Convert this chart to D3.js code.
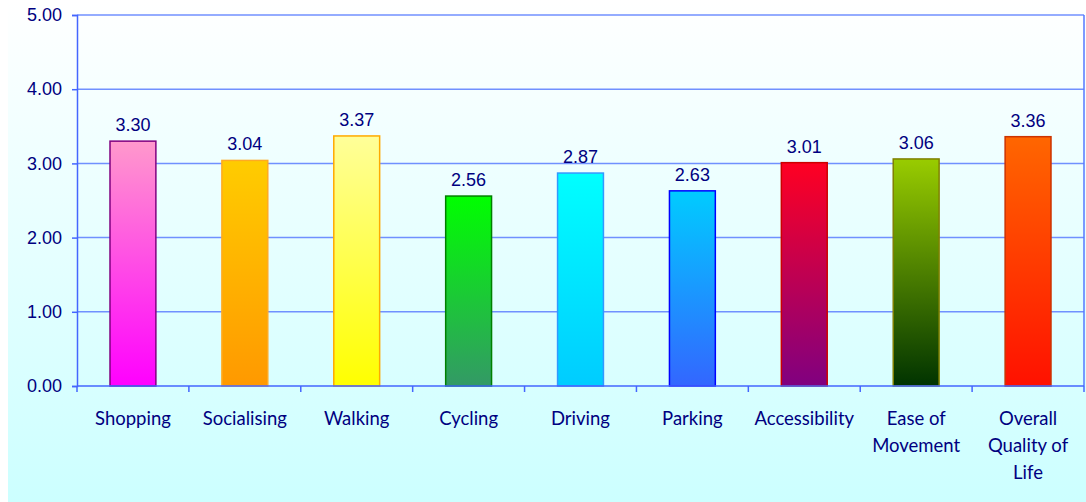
<!DOCTYPE html>
<html>
<head>
<meta charset="utf-8">
<script src="https://cdn.jsdelivr.net/npm/d3@7"></script>
<style>
  body { margin: 0; background: #fff; }
  svg { display: block; }
</style>
</head>
<body>
<div id="chart"></div>
<script>
'use strict';

const categories = ["Shopping", "Socialising", "Walking", "Cycling", "Driving",
  "Parking", "Accessibility", "Ease of Movement", "Overall Quality of Life"];
const values = [3.30, 3.04, 3.37, 2.56, 2.87, 2.63, 3.01, 3.06, 3.36];
const yTicks = [0, 1, 2, 3, 4, 5];
// label lines for wrapped categories
const labelLines = [["Shopping"], ["Socialising"], ["Walking"], ["Cycling"], ["Driving"],
  ["Parking"], ["Accessibility"], ["Ease of", "Movement"], ["Overall", "Quality of", "Life"]];
// gradient top / bottom / outline per bar
const topColors = ["#ff99cc", "#ffcc00", "#ffff99", "#00ff00", "#00ffff", "#00ccff", "#ff0022", "#99cc00", "#ff6600"];
const bottomColors = ["#ff00ff", "#ff9900", "#ffff00", "#339966", "#00ccff", "#3366ff", "#800080", "#003300", "#ff1100"];
const strokeColors = ["#800080", "#ffaa22", "#ffaa00", "#008000", "#3399ff", "#0000ff", "#cc0000", "#808000", "#cc3300"];

const m = { width: 1086, height: 502, left: 77, right: 1084, top: 15, bottom: 386 };

const svg = d3.select('#chart')
  .append('svg')
  .attr('width', m.width)
  .attr('height', m.height);

const defs = svg.append('defs');

const bg = defs.append('linearGradient')
  .attr('id', 'bgGrad')
  .attr('x1', 0).attr('y1', 0).attr('x2', 0).attr('y2', 1);
bg.append('stop').attr('offset', '0%').attr('stop-color', '#ffffff');
bg.append('stop').attr('offset', '100%').attr('stop-color', '#ccffff');

categories.forEach((c, i) => {
  let g = defs.append('linearGradient')
    .attr('id', 'barGrad' + i)
    .attr('x1', 0).attr('y1', 0).attr('x2', 0).attr('y2', 1);
  g.append('stop').attr('offset', '0%').attr('stop-color', topColors[i]);
  g.append('stop').attr('offset', '100%').attr('stop-color', bottomColors[i]);
});

svg.append('rect')
  .attr('x', 8)
  .attr('y', 0)
  .attr('width', m.width - 8)
  .attr('height', m.height)
  .attr('fill', 'url(#bgGrad)');

const x = d3.scaleBand()
  .domain(categories)
  .range([m.left, m.right])
  .paddingInner(0.59)
  .paddingOuter(0.295);

const xBand = d3.scaleBand()
  .domain(categories)
  .range([m.left, m.right]);

const y = d3.scaleLinear()
  .domain([0, 5])
  .range([m.bottom, m.top]);

// grid lines
svg.append('g')
  .selectAll('line')
  .data(yTicks.slice(1))
  .enter()
  .append('line')
  .attr('x1', m.left)
  .attr('x2', m.right)
  .attr('y1', d => y(d))
  .attr('y2', d => y(d))
  .attr('stroke', '#7090ff')
  .attr('stroke-width', 1.5);

// right border
svg.append('line')
  .attr('x1', m.right).attr('x2', m.right)
  .attr('y1', m.top).attr('y2', m.bottom)
  .attr('stroke', '#5577ff')
  .attr('stroke-width', 1.5);

// bars
svg.selectAll('.bar')
  .data(values)
  .enter()
  .append('rect')
  .attr('class', 'bar')
  .attr('x', (d, i) => x(categories[i]))
  .attr('width', x.bandwidth())
  .attr('y', d => y(d))
  .attr('height', d => y(0) - y(d))
  .attr('fill', (d, i) => 'url(#barGrad' + i + ')')
  .attr('stroke', (d, i) => strokeColors[i])
  .attr('stroke-width', 1.5);

// value labels
svg.selectAll('.val')
  .data(values)
  .enter()
  .append('text')
  .attr('class', 'val')
  .attr('x', (d, i) => x(categories[i]) + x.bandwidth() / 2)
  .attr('y', d => y(d) - 10)
  .attr('text-anchor', 'middle')
  .style('font-family', 'Liberation Sans, Arial, sans-serif')
  .style('font-size', '18px')
  .style('fill', '#000080')
  .text(d => d.toFixed(2));

// y axis
let yAxis = d3.axisLeft(y)
  .tickValues(yTicks)
  .tickSize(5)
  .tickPadding(10)
  .tickFormat(d3.format('.2f'));
let gy = svg.append('g')
  .attr('transform', 'translate(' + m.left + ',0)')
  .call(yAxis);
gy.select('.domain').attr('stroke', '#4466ff').attr('stroke-width', 1.5);
gy.selectAll('.tick line').attr('stroke', '#4466ff').attr('stroke-width', 1.5);
gy.selectAll('.tick text')
  .style('font-family', 'Liberation Sans, Arial, sans-serif')
  .style('font-size', '18px')
  .style('fill', '#000080');

// x axis line with boundary ticks
svg.append('line')
  .attr('x1', m.left).attr('x2', m.right)
  .attr('y1', m.bottom).attr('y2', m.bottom)
  .attr('stroke', '#4466ff')
  .attr('stroke-width', 1.5);

svg.append('g')
  .selectAll('line')
  .data(categories.concat(['end']))
  .enter()
  .append('line')
  .attr('x1', (d, i) => i < categories.length ? xBand(d) : m.right)
  .attr('x2', (d, i) => i < categories.length ? xBand(d) : m.right)
  .attr('y1', m.bottom)
  .attr('y2', m.bottom + 6)
  .attr('stroke', '#4466ff')
  .attr('stroke-width', 1.5);

// category labels
let labels = svg.selectAll('.cat')
  .data(labelLines)
  .enter()
  .append('text')
  .attr('class', 'cat')
  .attr('text-anchor', 'middle')
  .style('font-family', 'Lato, Carlito, sans-serif')
  .style('font-size', '18.5px')
  .style('fill', '#000080');

labels.each(function(lines, i) {
  let cx = xBand(categories[i]) + xBand.bandwidth() / 2;
  d3.select(this).selectAll('tspan')
    .data(lines)
    .enter()
    .append('tspan')
    .attr('x', cx)
    .attr('y', (l, j) => 425 + j * 27)
    .text(l => l);
});
</script>
</body>
</html>
